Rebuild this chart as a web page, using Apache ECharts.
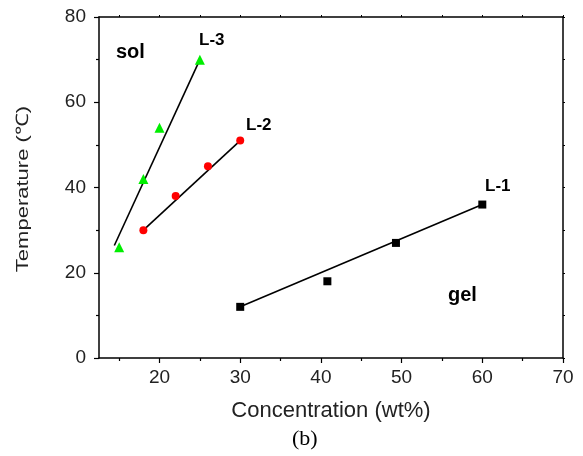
<!DOCTYPE html>
<html>
<head>
<meta charset="utf-8">
<script src="https://cdn.jsdelivr.net/npm/echarts@6/dist/echarts.min.js"></script>
<style>
html,body{margin:0;padding:0;background:#fff;}
#chart{width:583px;height:456px;}
</style>
</head>
<body>
<div id="chart"></div>
<script>
// Data
const l1X = [30, 40.8, 49.3, 60];
const l1Y = [12, 18, 27, 36];
const l2X = [18, 22, 26, 30];
const l2Y = [30, 38, 45, 51];
const l3X = [15, 18, 20, 25];
const l3Y = [26, 42, 54, 70];
// Fitted straight lines (endpoints)
const fit1X = [30, 60];
const fit1Y = [12, 36];
const fit2X = [18, 30];
const fit2Y = [30, 51];
const fit3X = [14.4, 25];
const fit3Y = [26.4, 70];
// Ticks
const xMajorTicks = [20, 30, 40, 50, 60, 70];
const xMinorTicks = [15, 25, 35, 45, 55, 65];
const xTopTicks = [15, 20, 25, 30, 35, 40, 45, 50, 55, 60, 65, 70];
const yTicks = [0, 20, 40, 60, 80];

const pairs = (xs, ys) => xs.map((x, i) => [x, ys[i]]);
const FONT = '"Liberation Sans", Arial, sans-serif';
const chart = echarts.init(document.getElementById('chart'));
const axisLine = {show: true, onZero: false, lineStyle: {color: '#000', width: 1.5}};
const xBase = {type: 'value', min: 12.5, max: 70};
chart.setOption({
  animation: false,
  grid: {left: 99, right: 20, top: 17, bottom: 98, containLabel: false},
  xAxis: [
    Object.assign({}, xBase, {
      position: 'bottom',
      name: 'Concentration (wt%)', nameLocation: 'middle', nameGap: 42,
      nameTextStyle: {fontFamily: FONT, fontSize: 22, color: '#222'},
      axisLine: axisLine,
      axisTick: {show: true, inside: false, length: 5, customValues: xMajorTicks, lineStyle: {color: '#000', width: 1.2}},
      axisLabel: {show: true, customValues: xMajorTicks, margin: 10, fontFamily: FONT, fontSize: 19, color: '#222'},
      splitLine: {show: false}
    }),
    Object.assign({}, xBase, {
      position: 'bottom', offset: 0,
      axisLine: {show: false},
      axisTick: {show: true, inside: false, length: 3, customValues: xMinorTicks, lineStyle: {color: '#000', width: 1.2}},
      axisLabel: {show: false},
      splitLine: {show: false}
    }),
    Object.assign({}, xBase, {
      position: 'top',
      axisLine: axisLine,
      axisTick: {show: true, inside: false, length: 2, customValues: xTopTicks, lineStyle: {color: '#000', width: 1}},
      axisLabel: {show: false},
      splitLine: {show: false}
    })
  ],
  yAxis: [
    {
      type: 'value', min: 0, max: 80, interval: 20, position: 'left',
      axisLine: axisLine,
      axisTick: {show: true, inside: false, length: 5, lineStyle: {color: '#000', width: 1.2}},
      minorTick: {show: true, splitNumber: 2, length: 3, lineStyle: {color: '#000', width: 1.2}},
      axisLabel: {show: true, margin: 13, fontFamily: FONT, fontSize: 19, color: '#222'},
      splitLine: {show: false}
    },
    {
      type: 'value', min: 0, max: 80, interval: 20, position: 'right',
      axisLine: axisLine,
      axisTick: {show: true, inside: false, length: 2, lineStyle: {color: '#000', width: 1}},
      minorTick: {show: true, splitNumber: 2, length: 2, lineStyle: {color: '#000', width: 1}},
      axisLabel: {show: false},
      splitLine: {show: false}
    }
  ],
  series: [
    {type: 'line', data: pairs(fit1X, fit1Y), showSymbol: false, lineStyle: {color: '#000', width: 1.6}, silent: true, z: 2},
    {type: 'line', data: pairs(fit2X, fit2Y), showSymbol: false, lineStyle: {color: '#000', width: 1.6}, silent: true, z: 2},
    {type: 'line', data: pairs(fit3X, fit3Y), showSymbol: false, lineStyle: {color: '#000', width: 1.6}, silent: true, z: 2},
    {type: 'scatter', data: pairs(l1X, l1Y), symbol: 'rect', symbolSize: 8, itemStyle: {color: '#000', opacity: 1}, z: 3},
    {type: 'scatter', data: pairs(l2X, l2Y), symbol: 'circle', symbolSize: 8, itemStyle: {color: '#ff0000', opacity: 1}, z: 3},
    {type: 'scatter', data: pairs(l3X, l3Y), symbol: 'triangle', symbolSize: 10, itemStyle: {color: '#00ee00', opacity: 1}, z: 3}
  ],
  graphic: [
    {type: 'text', x: 23, y: 189, rotation: Math.PI / 2, scaleY: 0.78,
     style: {text: 'Temperature (\u2103)', font: '22px ' + FONT, fill: '#222', align: 'center', verticalAlign: 'middle'}},
    {type: 'text', left: 116, top: 42, style: {text: 'sol', font: 'bold 20px ' + FONT, fill: '#000'}},
    {type: 'text', left: 199, top: 32, style: {text: 'L-3', font: 'bold 17px ' + FONT, fill: '#000'}},
    {type: 'text', left: 246, top: 117, style: {text: 'L-2', font: 'bold 17px ' + FONT, fill: '#000'}},
    {type: 'text', left: 485, top: 178, style: {text: 'L-1', font: 'bold 17px ' + FONT, fill: '#000'}},
    {type: 'text', left: 448, top: 285, style: {text: 'gel', font: 'bold 20px ' + FONT, fill: '#000'}},
    {type: 'text', left: 292, top: 428, style: {text: '(b)', font: '22px "Liberation Serif", "Times New Roman", serif', fill: '#000'}}
  ]
});
</script>
</body>
</html>
